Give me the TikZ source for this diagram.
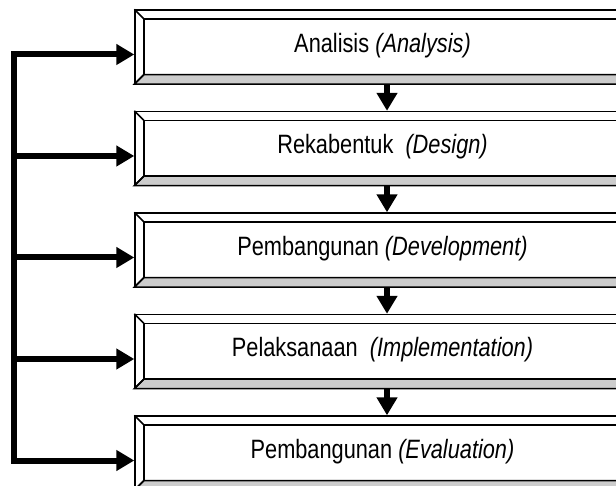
\documentclass[tikz,border=0pt]{standalone}
\usepackage{fontspec}
\usepackage{xcolor}
\usepackage{tikz}
\usetikzlibrary{arrows.meta,calc}
\newfontfamily\narrowsf[FakeStretch=0.82]{Liberation Sans}

\begin{document}
\begin{tikzpicture}[x=0.75pt,y=0.75pt,
  phase/.style={draw,line width=1.1pt,minimum width=371.25pt,minimum height=55.1pt,inner sep=0pt,
    font=\narrowsf\fontsize{19.9}{24}\selectfont,text height=14pt,text depth=6pt},
  flow/.style={line width=4.5pt,line join=miter,-{Triangle[length=13.5pt,width=15pt]}}]
\useasboundingbox (0,0) rectangle (616,485);
\clip (0,0) rectangle (616,485);
\node[phase] (b1) at (382.5,438.25) {Analisis \textit{(Analysis)}};
\node[phase] (b2) at (382.5,336.75) {Rekabentuk\ \ \textit{(Design)}};
\node[phase] (b3) at (382.5,235.25) {Pembangunan \textit{(Development)}};
\node[phase] (b4) at (382.5,133.75) {Pelaksanaan\ \ \textit{(Implementation)}};
\node[phase] (b5) at (382.5,32.25) {Pembangunan \textit{(Evaluation)}};
% bevel round each box
\foreach \b in {b1,b2,b3,b4,b5} {
  \filldraw[fill=black!20,line width=1.1pt] (\b.south west) -- (\b.south east) -- ($(\b.south east)+(-9.5,9.5)$) -- ($(\b.south west)+(9.5,9.5)$) -- cycle;
  \draw[line width=1.1pt] ($(\b.south west)+(9.5,9.5)$) rectangle ($(\b.north east)+(-9.5,-9.5)$);
  \draw[line width=1.1pt] (\b.north west) -- ++(9.5,-9.5) (\b.south west) -- ++(9.5,9.5);
  \coordinate (a\b) at ($(\b.west)+(0,-7.75)$);
  \coordinate (l\b) at ($(\b.west)+(-120,-7.75)$);
}
% feedback
\draw[flow] (lb3) |- (ab1);
\draw[flow] (lb3) |- (ab5);
\draw[flow] (lb2) -- (ab2);
\draw[flow] (lb3) -- (ab3);
\draw[flow] (lb4) -- (ab4);
% down arrows
\draw[flow] ($(b1.south)+(4.5,0)$) -- ($(b2.north)+(4.5,0)$);
\draw[flow] ($(b2.south)+(4.5,0)$) -- ($(b3.north)+(4.5,0)$);
\draw[flow] ($(b3.south)+(4.5,0)$) -- ($(b4.north)+(4.5,0)$);
\draw[flow] ($(b4.south)+(4.5,0)$) -- ($(b5.north)+(4.5,0)$);
\end{tikzpicture}
\end{document}
